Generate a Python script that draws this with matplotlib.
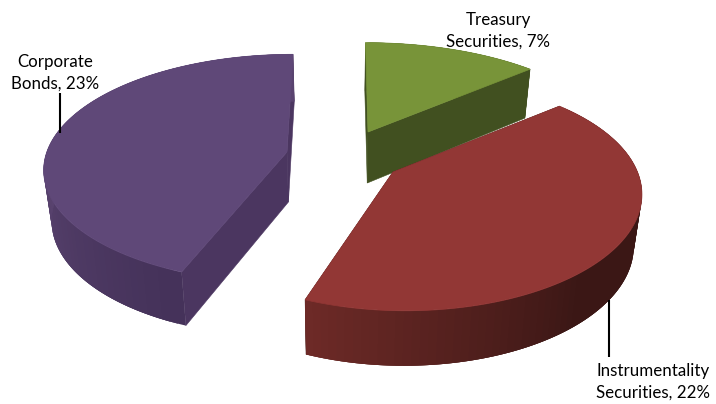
import numpy as np
import matplotlib
matplotlib.use("Agg")
import matplotlib.pyplot as plt
from matplotlib.colors import to_rgb
from matplotlib.patches import Polygon

categories = ["Treasury\nSecurities", "Instrumentality\nSecurities", "Corporate\nBonds"]
shares = [7, 22, 23]

# tip of each wedge on the canvas, in pixels
tips_x = [368, 393, 287]
tips_y = [132, 172, 152]
# centre and size of the rim ellipse of each wedge
rim_x = [365.5, 405.5, 290]
rim_y = [131.5, 172, 146.5]
radius_x = [248, 232, 241]
radius_y = [106, 112, 110]
shear = [0, 0, 3.6]
wall_height = [51, 51, 50]
perspective = 0.193
vanish_x = 340

top_colors = ["#789439", "#923735", "#5f4878"]
face_colors = ["#415020", "#3b1715", "#4b3660"]
wall_light = ["#415020", "#6d2a27", "#59436f"]
wall_dark = ["#415020", "#3b1715", "#45325a"]
# angle range over which the outer wall fades from light to dark
fade_from = [0, 200, 265]
fade_to = [48, 140, 205]

label_x = [498, 653, 55]
label_y = [31, 382, 73]


def shift_down(idx, x, y, s, depth):
    x = x + (vanish_x - x) * 0.027 * depth
    y = y + wall_height[idx] * s ** 0.35 * depth
    return x, y


def ring(idx, theta, depth=0.0):
    t = np.radians(theta)
    u, v = np.sin(t), np.cos(t)
    s = 1 / (1 + perspective * v)
    x = rim_x[idx] + (radius_x[idx] * u + shear[idx] * v) * s
    y = rim_y[idx] - radius_y[idx] * v * s
    return shift_down(idx, x, y, s, depth)


def fade(idx, theta):
    f = (theta - fade_from[idx]) / (fade_to[idx] - fade_from[idx])
    f = np.clip(f, 0, 1)
    a, b = np.array(to_rgb(wall_light[idx])), np.array(to_rgb(wall_dark[idx]))
    return a + (b - a) * f


fig = plt.figure(figsize=(7.16, 4.04), dpi=100)
ax = fig.add_axes([0, 0, 1, 1])
ax.set_xlim(0, 716)
ax.set_ylim(404, 0)
ax.axis("off")

angles = np.cumsum([0] + shares) / sum(shares) * 360

for idx in [2, 0, 1]:
    start, end = angles[idx], angles[idx + 1]
    tx, ty = tips_x[idx], tips_y[idx]
    bx, by = shift_down(idx, tx, ty, 1.0, 1.0)

    # flat cut faces running from the tip out to the rim
    for a in [start, end]:
        x0, y0 = ring(idx, a)
        x1, y1 = ring(idx, a, 1.0)
        ax.add_patch(Polygon([(tx, ty), (x0, y0), (x1, y1), (bx, by)],
                             fc=face_colors[idx], ec=face_colors[idx], lw=0.4))

    # outer wall in overlapping strips so the shade can change around the rim
    steps = np.linspace(start, end, 90)
    width = steps[1] - steps[0]
    for a0 in steps[:-1]:
        a1 = min(a0 + width * 3, end)
        c = fade(idx, a0 + width / 2)
        arc = np.linspace(a0, a1, 5)
        x0, y0 = ring(idx, arc)
        x1, y1 = ring(idx, arc[::-1], 1.0)
        ax.add_patch(Polygon(np.column_stack([np.r_[x0, x1], np.r_[y0, y1]]),
                             fc=c, ec="none"))

    xs, ys = ring(idx, np.linspace(start, end, 200))
    top = np.column_stack([np.r_[tx, xs], np.r_[ty, ys]])
    ax.add_patch(Polygon(top, fc=top_colors[idx], ec=top_colors[idx], lw=0.5))

# leader lines
ax.plot([60, 60], [93, 133], color="black", lw=1.5, solid_capstyle="butt")
ax.plot([609, 609], [300, 357], color="black", lw=1.5, solid_capstyle="butt")

for name, share, x, y in zip(categories, shares, label_x, label_y):
    ax.text(x, y, f"{name}, {share}%", ha="center", va="center", family="Lato",
            fontsize=12.2, color="black", linespacing=1.48)

fig.savefig("out.png", dpi=100)
